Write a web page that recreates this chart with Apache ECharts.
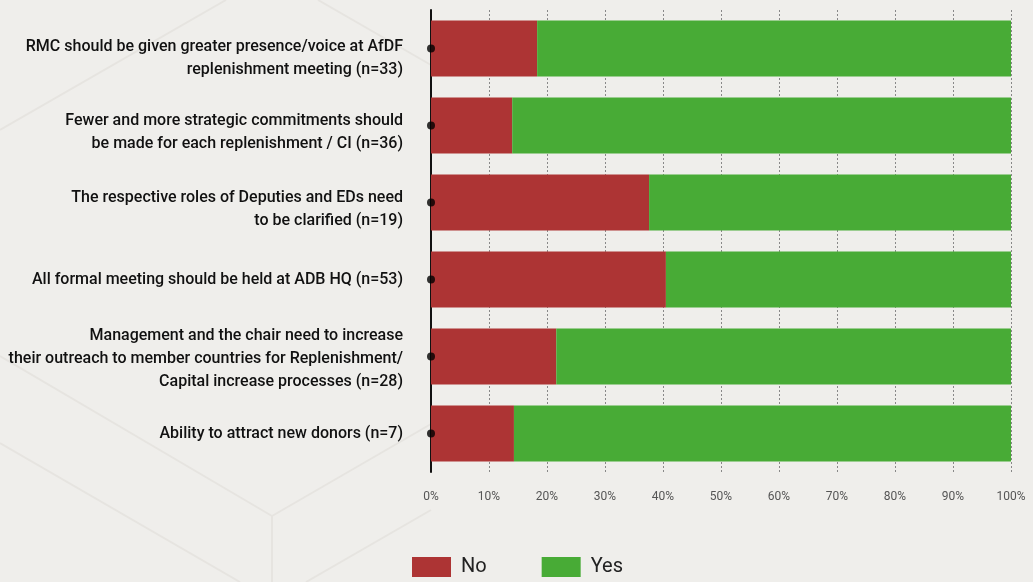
<!DOCTYPE html>
<html>
<head>
<meta charset="utf-8">
<style>
  html, body { margin: 0; padding: 0; background: #efeeeb; }
  #chart { width: 1033px; height: 582px; }
</style>
<script src="https://cdn.jsdelivr.net/npm/echarts@6/dist/echarts.min.js"></script>
</head>
<body>
<div id="chart"></div>
<script>
// categories, top to bottom
const categories = [
  'RMC should be given greater presence/voice at AfDF\nreplenishment meeting (n=33)',
  'Fewer and more strategic commitments should\nbe made for each replenishment / CI (n=36)',
  'The respective roles of Deputies and EDs need\nto be clarified (n=19)',
  'All formal meeting should be held at ADB HQ (n=53)',
  'Management and the chair need to increase\ntheir outreach to member countries for Replenishment/\nCapital increase processes (n=28)',
  'Ability to attract new donors (n=7)'
]
// share of answers, in %
const noValues = [18.3, 14.0, 37.6, 40.5, 21.6, 14.3]
const yesValues = [81.7, 86.0, 62.4, 59.5, 78.4, 85.7]
const tickLabels = ['0%', '10%', '20%', '30%', '40%', '50%', '60%', '70%', '80%', '90%', '100%']

// the labels in the original sit a little below the bar centre (px)
const labelDrop = [10, 7, 7, 0, 2, 0]

const FONT = 'Roboto, "Liberation Sans Narrow", sans-serif'

// faint hexagon pattern in the background
const hexLines = [
  [[0, 130], [226, 0]],
  [[318, 0], [431, 65]],
  [[0, 356], [272, 516]],
  [[272, 516], [272, 582]],
  [[272, 516], [431, 424]],
  [[0, 443], [240, 582]],
  [[306, 582], [431, 510]]
]

// a blank spacer line on top pushes the label block down by half its height
const rich = {}
labelDrop.forEach(d => {
  if (d > 0) rich['sp' + d] = { lineHeight: d * 2, fontSize: 2 }
})

const chart = echarts.init(document.getElementById('chart'))
chart.setOption({
  backgroundColor: '#efeeeb',
  animation: false,
  textStyle: { fontFamily: FONT },
  graphic: hexLines.map(l => ({
    type: 'line',
    z: -10,
    silent: true,
    shape: { x1: l[0][0], y1: l[0][1], x2: l[1][0], y2: l[1][1] },
    style: { stroke: '#e6e4e0', lineWidth: 2 }
  })),
  grid: {
    left: 431,
    right: 22,
    top: 10,
    bottom: 110,
    containLabel: false,
    outerBoundsMode: 'none'
  },
  legend: {
    top: 552,
    left: 407,
    itemWidth: 39,
    itemHeight: 20,
    itemGap: 55,
    icon: 'rect',
    textStyle: { fontSize: 20, color: '#222', fontFamily: FONT, padding: [0, 0, 0, 5] },
    data: ['No', 'Yes']
  },
  xAxis: {
    type: 'value',
    min: 0,
    max: 100,
    interval: 10,
    axisLine: { show: false },
    axisTick: { show: false },
    axisLabel: {
      margin: 19,
      fontSize: 12,
      color: '#555',
      formatter: (v) => tickLabels[Math.round(v / 10)]
    },
    splitLine: { lineStyle: { type: [2, 2], color: '#888', width: 1 } }
  },
  yAxis: {
    type: 'category',
    inverse: true,
    data: categories,
    axisLine: { lineStyle: { color: '#111', width: 2 } },
    axisTick: { show: false },
    axisLabel: {
      margin: 28,
      fontSize: 16,
      fontWeight: 500,
      lineHeight: 23,
      color: '#111',
      align: 'right',
      rich: rich,
      formatter: (value, idx) => {
        const d = labelDrop[idx]
        return d > 0 ? '{sp' + d + '| }\n' + value : value
      }
    }
  },
  series: [
    {
      name: 'No',
      type: 'bar',
      stack: 'total',
      barWidth: 56,
      itemStyle: { color: '#ad3434' },
      data: noValues
    },
    {
      name: 'Yes',
      type: 'bar',
      stack: 'total',
      barWidth: 56,
      itemStyle: { color: '#48ab36' },
      data: yesValues
    },
    {
      type: 'scatter',
      symbol: 'circle',
      symbolSize: 8,
      z: 5,
      itemStyle: { color: '#000' },
      data: categories.map((c, i) => [0, i])
    }
  ]
})
</script>
</body>
</html>
